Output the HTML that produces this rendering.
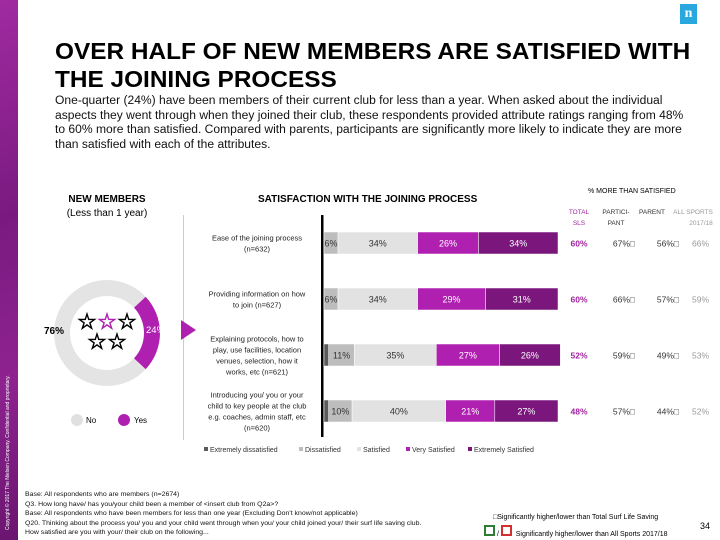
<!DOCTYPE html>
<html><head><meta charset="utf-8"><style>
body{margin:0;width:720px;height:540px;position:relative;background:#fff;font-family:"Liberation Sans",sans-serif;overflow:hidden}
.abs{position:absolute}
.nar{transform-origin:0 0;white-space:nowrap}
</style></head><body>
<div class="abs" style="left:0;top:0;width:18px;height:540px;background:linear-gradient(160deg,#a02ba0,#7a1a80 40%,#8e2390 70%,#6a156f)"></div>
<div class="abs" style="left:5px;top:530px;transform:rotate(-90deg);transform-origin:0 0;font-size:5px;color:#fff;white-space:nowrap">Copyright © 2017 The Nielsen Company. Confidential and proprietary.</div>
<div class="abs" style="left:680px;top:4px;width:17px;height:20px;background:#29a8e0;color:#fff;font:bold 14px 'Liberation Serif',serif;text-align:center;line-height:20px">n</div>
<div class="abs nar" style="left:55px;top:37px;font-size:23px;font-weight:bold;line-height:28px;color:#000;transform:scaleX(1.06)">OVER HALF OF NEW MEMBERS ARE SATISFIED WITH<br>THE JOINING PROCESS</div>
<div class="abs nar" style="left:55px;top:94px;font-size:11.5px;line-height:14.7px;color:#111;transform:scaleX(1.05)">One-quarter (24%) have been members of their current club for less than a year. When asked about the individual<br>aspects they went through when they joined their club, these respondents provided attribute ratings ranging from 48%<br>to 60% more than satisfied. Compared with parents, participants are significantly more likely to indicate they are more<br>than satisfied with each of the attributes.</div>
<div class="abs" style="left:45px;top:193px;width:124px;text-align:center;font-size:10px;line-height:14px"><b>NEW MEMBERS</b><br>(Less than 1 year)</div>
<div class="abs" style="left:183px;top:215px;width:1px;height:225px;background:#ccc"></div>
<svg class="abs" style="left:0;top:0" width="720" height="540" id="svg"></svg>
<div class="abs" style="left:258px;top:194px;font-size:10px;font-weight:bold">SATISFACTION WITH THE JOINING PROCESS</div>
<div class="abs" style="left:588px;top:188px;font-size:7px">% MORE THAN SATISFIED</div>
<div class="abs nar" style="left:25px;top:490px;font-size:6.8px;line-height:9.5px;color:#111;transform:scaleX(1.02)">Base: All respondents who are members (n=2674)<br>Q3. How long have/ has you/your child been a member of &lt;insert club from Q2a&gt;?<br>Base: All respondents who have been members for less than one year (Excluding Don't know/not applicable)<br>Q20. Thinking about the process you/ you and your child went through when you/ your child joined your/ their surf life saving club.<br>How satisfied are you with your/ their club on the following...</div>
<div class="abs" style="left:493px;top:514px;font-size:7px">□Significantly higher/lower than Total Surf Life Saving</div>
<div class="abs" style="left:484px;top:525px;font-size:7px"><span style="display:inline-block;width:7px;height:7px;border:2px solid #2e7d32"></span> / <span style="display:inline-block;width:7px;height:7px;border:2px solid #d32f2f;background:#fff"></span> &nbsp;Significantly higher/lower than All Sports 2017/18</div>
<div class="abs" style="left:700px;top:521px;font-size:9px">34</div>
<script>
const categories=["Ease of the joining process (n=632)","Providing information on how to join (n=627)","Explaining protocols, how to play, use facilities, location venues, selection, how it works, etc (n=621)","Introducing you/ you or your child to key people at the club e.g. coaches, admin staff, etc (n=620)"];
const catLines=[["Ease of the joining process","(n=632)"],["Providing information on how","to join (n=627)"],["Explaining protocols, how to","play, use facilities, location","venues, selection, how it","works, etc (n=621)"],["Introducing you/ you or your","child to key people at the club","e.g. coaches, admin staff, etc","(n=620)"]];
const seriesNames=["Extremely dissatisfied","Dissatisfied","Satisfied","Very Satisfied","Extremely Satisfied"];
const extDis=[0,0,2,2];
const dis=[6,6,11,10];
const sat=[34,34,35,40];
const very=[26,29,27,21];
const ext=[34,31,26,27];
const totalSLS=["60%","60%","52%","48%"];
const participant=["67%","66%","59%","57%"];
const parent=["56%","57%","49%","44%"];
const allSports=["66%","59%","53%","52%"];
const donutNo=76, donutYes=24;
const colors=["#5a5a5a","#bdbdbd","#e2e2e2","#b020b0","#7a167c"];
const NS="http://www.w3.org/2000/svg";
const svg=document.getElementById('svg');
function el(t,a,p){const e=document.createElementNS(NS,t);for(const k in a)e.setAttribute(k,a[k]);(p||svg).appendChild(e);return e;}
const x0=324,scale=2.34;
const xs=v=>x0+v*scale;
const ys=i=>243+i*56;
const bh=22;
el('rect',{x:321,y:215,width:2.5,height:222,fill:'#000'});
const series=[extDis,dis,sat,very,ext];
for(let i=0;i<categories.length;i++){
  let acc=0;const yc=ys(i);
  for(let s=0;s<5;s++){
    const v=series[s][i];
    const r=el('rect',{x:xs(acc),y:yc-bh/2,width:v*scale,height:bh,fill:colors[s],stroke:'#fff','stroke-width':0.5});
    
    
    if(v>=6){const t=el('text',{x:xs(acc+v/2),y:yc+3.5,'text-anchor':'middle','font-size':9,fill:s>=3?'#fff':'#333'});t.textContent=v+'%';
      }
    acc+=v;
  }
  const lines=catLines[i];
  lines.forEach((ln,j)=>{const t=el('text',{x:257,y:yc+3-(lines.length-1)*5.5+j*11,'text-anchor':'middle','font-size':7.5,fill:'#222'});t.textContent=ln;
    });
  const cols=[[579,totalSLS,'#a0249f',true],[624,participant,'#333'],[668,parent,'#333'],[692,allSports,'#999']];
  cols.forEach(([cx,arr,c,b],k)=>{const t=el('text',{x:cx,y:yc+3.5,'text-anchor':k==3?'start':'middle','font-size':8.5,fill:c,'font-weight':b?'bold':'normal'});t.textContent=arr[i]+(k==1||k==2?'□':'');
    });
}
[["TOTAL",579,214,'#a0249f'],["SLS",579,225,'#a0249f'],["PARTICI-",616,214,'#333'],["PANT",616,225,'#333'],["PARENT",652,214,'#333'],["ALL SPORTS",693,214,'#999'],["2017/18",701,225,'#999']].forEach(([s,x,y,c])=>{const t=el('text',{x,y,'text-anchor':'middle','font-size':6.5,fill:c});t.textContent=s;});
const lx=[204,299,357,406,468];
seriesNames.forEach((n,k)=>{el('rect',{x:lx[k],y:447,width:4,height:4,fill:colors[k]});const t=el('text',{x:lx[k]+6,y:452,'font-size':7,fill:'#333'});t.textContent=n;
  });
const cx=107,cy=333,R=53,r0=37;
function arc(a0,a1,c){const p=(a,r)=>[cx+r*Math.sin(a),cy-r*Math.cos(a)];const big=a1-a0>Math.PI?1:0;
  const [x1,y1]=p(a0,R),[x2,y2]=p(a1,R),[x3,y3]=p(a1,r0),[x4,y4]=p(a0,r0);
  return el('path',{d:`M${x1},${y1}A${R},${R} 0 ${big} 1 ${x2},${y2}L${x3},${y3}A${r0},${r0} 0 ${big} 0 ${x4},${y4}Z`,fill:c});}
const ay=donutYes/100*2*Math.PI;
const a0=Math.PI/2-ay/2;
const s1=arc(a0,a0+ay,'#b020b0');
const s2=arc(a0+ay,a0+2*Math.PI-0.001,'#e4e4e4');
let t=el('text',{x:44,y:334,'font-size':10,'font-weight':'bold'});t.textContent=donutNo+'%';
t=el('text',{x:146,y:333,'font-size':9.5,fill:'#fff'});t.textContent=donutYes+'%';
el('path',{d:'M181,320 L196,330 L181,340Z',fill:'#b020b0'});
[[87,322,'#000'],[107,322,'#b020b0'],[127,322,'#000'],[97,342,'#000'],[117,342,'#000']].forEach(([x,y,c])=>{const s=el('text',{x,y:y+7,'text-anchor':'middle','font-size':22,'font-weight':'bold',fill:c});s.textContent='☆';});
el('circle',{cx:77,cy:420,r:6,fill:'#e0e0e0'});t=el('text',{x:86,y:423,'font-size':8});t.textContent='No';
el('circle',{cx:124,cy:420,r:6,fill:'#b020b0'});t=el('text',{x:134,y:423,'font-size':8});t.textContent='Yes';
</script>
</body></html>
